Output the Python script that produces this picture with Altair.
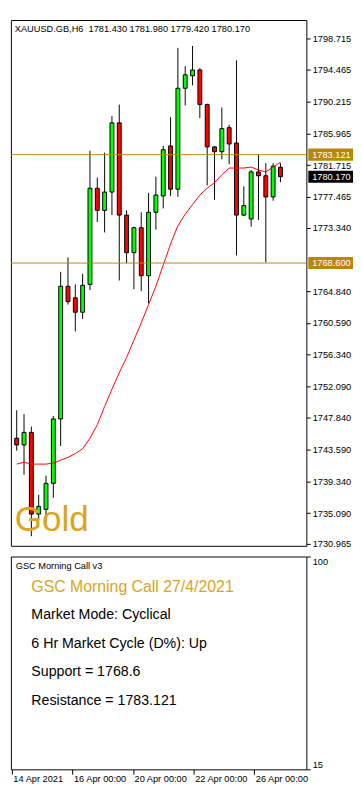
import altair as alt
import pandas as pd

# ---------------- data ----------------
symbol = "XAUUSD.GB,H6"
opens = [1745.13, 1744.23, 1745.91, 1734.96, 1735.60, 1739.08, 1747.71, 1765.49, 1763.94, 1762.01,
         1765.74, 1778.62, 1775.66, 1778.11, 1787.38, 1775.02, 1769.99, 1773.34, 1766.90, 1775.40,
         1777.59, 1784.29, 1778.49, 1792.02, 1793.69, 1794.47, 1789.83, 1784.16, 1783.52, 1786.74,
         1784.68, 1775.02, 1774.50, 1780.81, 1780.29, 1777.46, 1781.43]
highs = [1748.87, 1748.35, 1746.68, 1737.53, 1740.11, 1748.10, 1767.42, 1769.35, 1765.74, 1767.16,
         1783.65, 1780.04, 1783.39, 1788.28, 1789.83, 1775.66, 1773.47, 1775.40, 1777.98, 1780.17,
         1784.29, 1788.15, 1797.43, 1794.98, 1797.69, 1794.72, 1789.96, 1784.29, 1789.44, 1787.12,
         1795.75, 1778.88, 1781.07, 1783.13, 1781.97, 1781.97, 1781.98]
lows = [1743.46, 1740.24, 1732.00, 1734.19, 1733.80, 1737.15, 1744.10, 1763.04, 1759.43, 1761.11,
        1764.97, 1774.11, 1772.70, 1775.02, 1766.26, 1768.58, 1765.10, 1764.84, 1763.17, 1773.08,
        1775.92, 1777.59, 1777.46, 1789.70, 1792.40, 1788.02, 1779.01, 1777.08, 1782.49, 1781.84,
        1769.61, 1774.89, 1773.47, 1774.37, 1768.70, 1776.95, 1779.42]
closes = [1744.23, 1745.91, 1734.96, 1735.99, 1739.08, 1747.71, 1765.49, 1763.42, 1762.01, 1765.61,
          1778.62, 1775.66, 1778.11, 1787.38, 1775.02, 1769.99, 1773.34, 1766.90, 1775.40, 1777.72,
          1783.78, 1778.49, 1792.02, 1793.82, 1794.47, 1789.83, 1784.16, 1783.52, 1786.61, 1784.55,
          1775.02, 1776.30, 1780.81, 1780.29, 1777.46, 1781.58, 1780.17]
ma = [1741.66, 1741.92, 1741.66, 1741.66, 1741.66, 1741.79, 1742.18, 1742.56, 1743.07, 1743.72,
      1745.13, 1746.94, 1749.38, 1751.70, 1753.89, 1755.95, 1758.27, 1760.59, 1763.04, 1765.49,
      1768.32, 1771.15, 1773.60, 1775.15, 1776.43, 1777.72, 1778.62, 1779.39, 1780.42, 1781.33,
      1781.33, 1781.33, 1781.46, 1781.07, 1780.81, 1781.46, 1782.10]

support = 1768.600
resistance = 1783.121

price_ticks = [1798.715, 1794.465, 1790.215, 1785.965, 1781.715, 1777.465, 1773.340,
               1764.840, 1760.590, 1756.340, 1752.090, 1747.840, 1743.590, 1739.340,
               1735.090, 1730.965]
date_tick_idx = [0, 8, 16, 24, 32]
date_tick_labels = ["14 Apr 2021", "16 Apr 00:00", "20 Apr 00:00", "22 Apr 00:00", "26 Apr 00:00"]
osc_ticks = [15, 100]

panel_title = "GSC Morning Call v3"
call_title = "GSC Morning Call 27/4/2021"
info_lines = ["Market Mode: Cyclical",
              "6 Hr Market Cycle (D%): Up",
              f"Support = {support}",
              f"Resistance = {resistance}"]
big_label = "Gold"

# ---------------- layout / style ----------------
W = 304
H1 = 541
H2 = 219
FONT = "Liberation Sans"
GOLD = "#DAA520"
LEVEL = "#B8860B"

n = len(opens)
df = pd.DataFrame({"i": list(range(n)), "o": opens, "h": highs, "l": lows, "c": closes, "ma": ma})
df["col"] = ["#00FF00" if c > o else "#FF0000" for o, c in zip(opens, closes)]

xscale = alt.Scale(domain=[-0.125, 38.875], nice=False, zero=False)
yscale = alt.Scale(domain=[1730.71, 1801.16], nice=False, zero=False)

price_axis = alt.Axis(orient="right", values=price_ticks, format=".3f", grid=False, domain=False,
                      tickSize=4, tickColor="black", labelPadding=2, labelFont=FONT,
                      labelFontSize=9.5, labelColor="black", title=None, labelOverlap=False,
                      labelBound=False)


def Y(field):
    return alt.Y(field, scale=yscale, axis=price_axis)


base = alt.Chart(df)
X = alt.X("i:Q", scale=xscale, axis=None)

wicks = base.mark_rule(color="black", strokeWidth=1, clip=True).encode(
    x=X, y=Y("l:Q"), y2="h:Q")
bodies = base.mark_bar(size=4, stroke="black", strokeWidth=1, clip=True).encode(
    x=X, y=Y("o:Q"), y2="c:Q", fill=alt.Fill("col:N", scale=None))
ma_line = base.mark_line(color="#FF0000", strokeWidth=1, clip=True).encode(
    x=X, y=Y("ma:Q"))

lev_df = pd.DataFrame({"v": [resistance, support]})
lev_lines = alt.Chart(lev_df).mark_rule(color=LEVEL, strokeWidth=1).encode(y=Y("v:Q"))

lab_df = pd.DataFrame({"v": [resistance, support, closes[-1]],
                       "bg": [LEVEL, LEVEL, "black"]})
lab_df["t"] = [f"{v:.3f}" for v in lab_df["v"]]
box_path = "M-1,-0.27H1V0.27H-1Z"
boxes = alt.Chart(lab_df).mark_point(shape=box_path, size=46 * 46, filled=True, opacity=1,
                                     strokeWidth=0).encode(
    x=alt.value(W + 25), y=Y("v:Q"), fill=alt.Fill("bg:N", scale=None))
box_text = alt.Chart(lab_df).mark_text(align="left", baseline="middle", font=FONT,
                                       fontSize=9.5, color="white").encode(
    x=alt.value(W + 6), y=Y("v:Q"), text="t:N")

header = f"{symbol}\u00a0\u00a0{opens[-1]:.3f} {highs[-1]:.3f} {lows[-1]:.3f} {closes[-1]:.3f}"


def txt(s, x, y, size, color="black", baseline="alphabetic"):
    return alt.Chart(pd.DataFrame({"t": [s]})).mark_text(
        align="left", baseline=baseline, font=FONT, fontSize=size, color=color).encode(
        x=alt.value(x), y=alt.value(y), text="t:N")


top = alt.layer(
    wicks, bodies, ma_line, lev_lines, boxes, box_text,
    txt(header, 4, 12, 9.5),
    txt(big_label, 4, H1 - 15, 36, GOLD),
).properties(width=W, height=H1)

# ---------------- lower panel ----------------
label_expr = "''"
for idx, lab in reversed(list(zip(date_tick_idx, date_tick_labels))):
    label_expr = f"datum.value == {idx} ? '{lab}' : {label_expr}"

date_axis = alt.Axis(orient="bottom", values=date_tick_idx, labelExpr=label_expr, tickSize=5,
                     tickColor="black", labelAlign="left", labelPadding=0, labelOffset=1,
                     domain=False, grid=False, labelFont=FONT, labelFontSize=9.5,
                     labelColor="black", title=None, labelOverlap=False, labelFlush=False)
ticks_df = pd.DataFrame({"i": date_tick_idx})
anchor_x = alt.Chart(ticks_df).mark_point(opacity=0).encode(
    x=alt.X("i:Q", scale=xscale, axis=date_axis))

osc_axis = alt.Axis(orient="right", values=osc_ticks, labelFlush=True, tickSize=4,
                    tickColor="black", labelPadding=2, domain=False, grid=False,
                    labelFont=FONT, labelFontSize=9.5, labelColor="black", title=None,
                    labelOverlap=False)
osc_df = pd.DataFrame({"v": osc_ticks})
anchor_y = alt.Chart(osc_df).mark_point(opacity=0).encode(
    y=alt.Y("v:Q", scale=alt.Scale(domain=[15, 100], nice=False, zero=False), axis=osc_axis))

line_y = [64, 94, 123, 153]
lower_layers = [anchor_x, anchor_y,
                txt(panel_title, 5, 13, 9.5),
                txt(call_title, 21, 37, 16.3, GOLD)]
for s, yy in zip(info_lines, line_y):
    lower_layers.append(txt(s, 21, yy, 14.6))

bottom = alt.layer(*lower_layers).properties(width=W, height=H2)

chart = alt.vconcat(top, bottom, spacing=3).properties(
    padding=0, background="white"
).configure_view(stroke="black", strokeWidth=1).configure_axis(labelOverlap=False)

chart.save("out.html", embed_options={"renderer": "svg", "actions": False})
